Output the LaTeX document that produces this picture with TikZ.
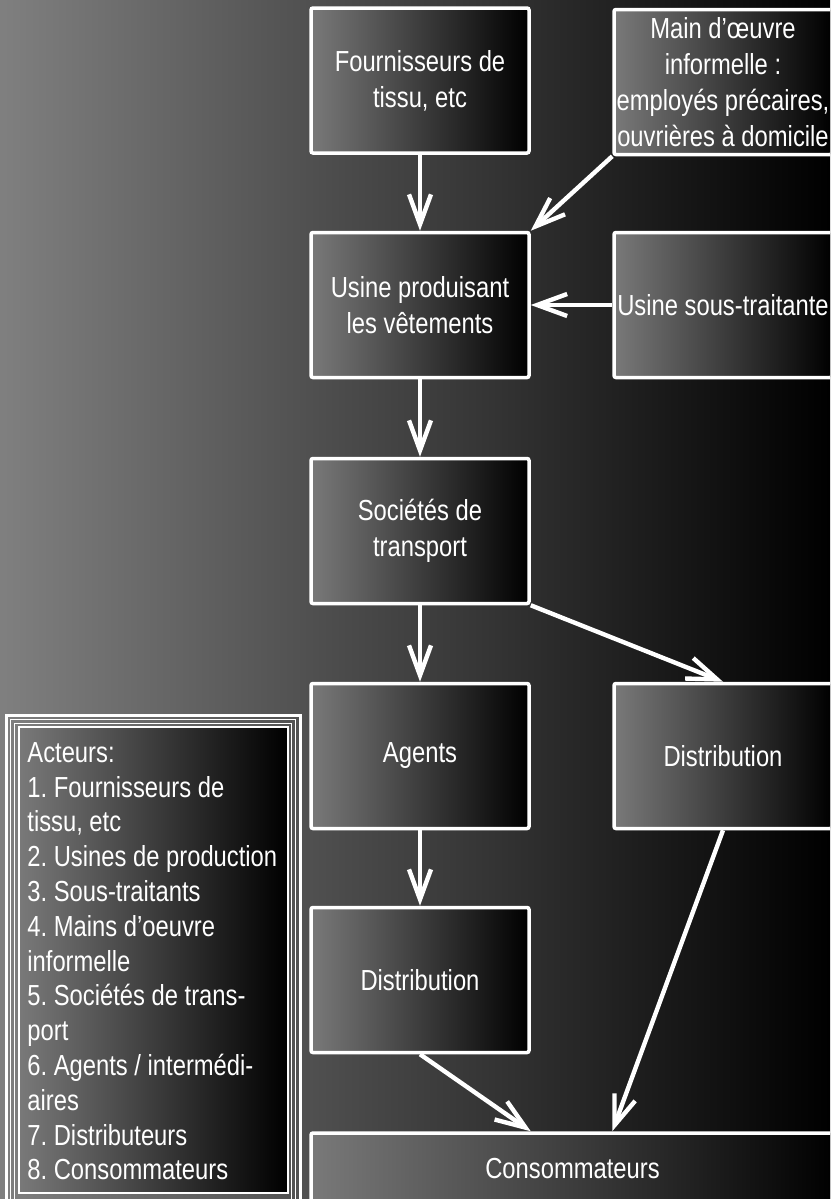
\documentclass[tikz,border=0pt]{standalone}
\usepackage{fontspec}
\setmainfont{Liberation Sans}[FakeStretch=0.82]
\usepackage{tikz}
\usetikzlibrary{arrows.meta}
\frenchspacing
\tikzset{
	box/.style={draw=white,line width=1.75pt,rounded corners=1pt,left color=gray!95!black,right color=black,text=white,align=center,inner sep=0pt,minimum width=109pt,minimum height=72.5pt,font=\fontsize{14.5}{18}\selectfont},
	arr/.style={draw=white,line width=2.2pt,-{Straight Barb[length=15pt,width=11pt]}},
	frame/.style={draw=white,line width=#1}
}

\begin{document}
\begin{tikzpicture}[x=0.5pt,y=-0.5pt]
							\useasboundingbox (0,0) rectangle (830,1199);
							\clip (0,0) rectangle (830,1199);
							\fill [left color=gray,right color=black] (0,0) rectangle (830,1199);

							\node [box] (fourn) at (420,80.5) {Fournisseurs de\\tissu, etc};
							\node [box] (informel) at (723,82) {Main d’œuvre\\informelle :\\employés précaires,\\ouvrières à domicile};
							\node [box] (usine) at (420,305) {Usine produisant\\les vêtements};
							\node [box] (soustrait) at (723,305) {Usine sous-traitante};
							\node [box] (transport) at (420,531) {Sociétés de\\transport};
							\node [box] (agents) at (420,756) {Agents};
							\node [box] (distribB) at (723,756) {Distribution};
							\node [box] (distribA) at (420,980) {Distribution};
							\node [box,minimum width=261.5pt,minimum height=36pt] (conso) at (572.5,1169) {Consommateurs};

							\draw [arr] (fourn) -- (usine);
							\draw [arr] (informel.south west) -- (usine.north east);
							\draw [arr] (soustrait) -- (usine);
							\draw [arr] (usine) -- (transport);
							\draw [arr] (transport) -- (agents);
							\draw [arr] (transport.south east) -- (distribB.north);
							\draw [arr] (agents) -- (distribA);
							\draw [arr] (distribA.south) -- (conso.north -| distribA.east);
							\draw [arr] (distribB.south) -- (conso.north -| distribB.west);

							\draw [frame=1.5pt] (6.5,715.5) rectangle (300,1210);
							\draw [frame=0.6pt] (10.5,719.5) rectangle (295.5,1206);
							\draw [frame=0.6pt] (14.5,723.5) rectangle (291.5,1202);
							\draw [frame=1pt,left color=gray!95!black,right color=black] (19,727) rectangle (287.5,1193);
							\node [anchor=north west,inner sep=0pt,text=white,align=left,font=\fontsize{14.5}{17.4}\selectfont] (acteurs) at (27,742) {Acteurs:\\1. Fournisseurs de\\tissu, etc\\2. Usines de production\\3. Sous-traitants\\4. Mains d’oeuvre\\informelle\\5. Sociétés de trans-\\port\\6. Agents / intermédi-\\aires\\7. Distributeurs\\8. Consommateurs};
						\end{tikzpicture}
\end{document}
